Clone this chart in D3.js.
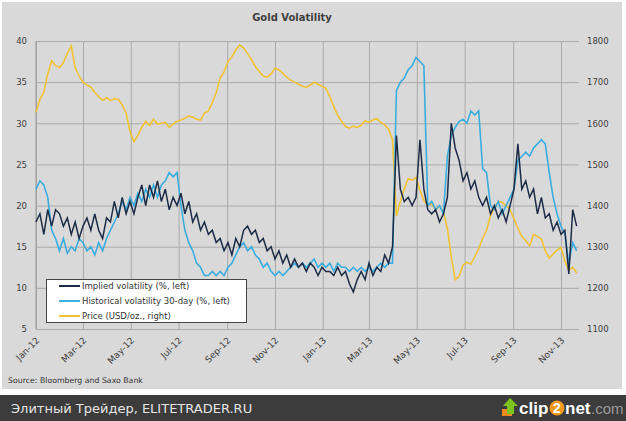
<!DOCTYPE html>
<html>
<head>
<meta charset="utf-8">
<script src="https://cdn.jsdelivr.net/npm/d3@7"></script>
<style>
body { margin: 0; background: #fff; }
svg { display: block; font-family: "DejaVu Sans", sans-serif; }
</style>
</head>
<body>
<div id="chart"></div>
<script>
const dates = [
    "2012-01-01","2012-01-06","2012-01-11","2012-01-16","2012-01-21","2012-01-26","2012-01-31",
    "2012-02-05","2012-02-10","2012-02-15","2012-02-20","2012-02-25",
    "2012-03-01","2012-03-06","2012-03-11","2012-03-16","2012-03-21","2012-03-26","2012-03-31",
    "2012-04-05","2012-04-10","2012-04-15","2012-04-20","2012-04-25","2012-04-30",
    "2012-05-05","2012-05-10","2012-05-15","2012-05-20","2012-05-25","2012-05-30",
    "2012-06-04","2012-06-09","2012-06-14","2012-06-19","2012-06-24","2012-06-29",
    "2012-07-04","2012-07-09","2012-07-14","2012-07-19","2012-07-24","2012-07-29",
    "2012-08-03","2012-08-08","2012-08-13","2012-08-18","2012-08-23","2012-08-28",
    "2012-09-02","2012-09-07","2012-09-12","2012-09-17","2012-09-22","2012-09-27",
    "2012-10-02","2012-10-07","2012-10-12","2012-10-17","2012-10-22","2012-10-27",
    "2012-11-01","2012-11-06","2012-11-11","2012-11-16","2012-11-21","2012-11-26",
    "2012-12-01","2012-12-06","2012-12-11","2012-12-16","2012-12-21","2012-12-26","2012-12-31",
    "2013-01-05","2013-01-10","2013-01-15","2013-01-20","2013-01-25","2013-01-30",
    "2013-02-04","2013-02-09","2013-02-14","2013-02-19","2013-02-24",
    "2013-03-01","2013-03-06","2013-03-11","2013-03-16","2013-03-21","2013-03-26","2013-03-31",
    "2013-04-05","2013-04-10","2013-04-15","2013-04-20","2013-04-25","2013-04-30",
    "2013-05-05","2013-05-10","2013-05-15","2013-05-20","2013-05-25","2013-05-30",
    "2013-06-04","2013-06-09","2013-06-14","2013-06-19","2013-06-24","2013-06-29",
    "2013-07-04","2013-07-09","2013-07-14","2013-07-19","2013-07-24","2013-07-29",
    "2013-08-03","2013-08-08","2013-08-13","2013-08-18","2013-08-23","2013-08-28",
    "2013-09-02","2013-09-07","2013-09-12","2013-09-17","2013-09-22","2013-09-27",
    "2013-10-02","2013-10-07","2013-10-12","2013-10-17","2013-10-22","2013-10-27",
    "2013-11-01","2013-11-06","2013-11-11","2013-11-16","2013-11-21"
];

const implied = [
    18,19,16.5,19.5,17.5,19.5,19,17.5,18.5,16.5,
    18,16,17.5,18.5,17,19,17,16,18.5,18,
    20.5,18.5,21,19,20.5,19,21,22.5,20,22.5,
    21,23,20.5,22,19.5,21,20,21.5,19,20.5,
    18,19,17,18,16.5,17,15.5,16,14.5,15.5,
    14,16,15,17,17.5,16.5,17,15.5,16,14.5,
    15,13.5,14.5,13,14,12.5,13.5,12.5,13,12,
    13,12.5,11.5,12.5,12,12,11.5,12.5,11.5,12,
    10.5,9.5,11,12,11,13,11.5,12.5,12,14,
    13,15,28.5,22,20.5,21,20,21,28,22,
    19.5,19,19.5,18,19,21,30,27,25.5,23,
    24,22,23,21,20,21,19,20,18.5,19.5,
    18,20,22,27.5,22,23,21,22,19,21,
    18.5,19,17,18,16.5,17,11.7,19.5,17.5
];

const historical = [
    22,23,22.5,21,17,16,14.5,16,14.2,15,
    14.5,16,15.5,14.5,15,14,15.5,14.5,16,17,
    18,19,20.5,19.5,21,20,21.5,20.5,22,21,
    22.5,21,22.5,23,24,23.5,24,20,17,15.5,
    14.5,13,12.5,11.5,11.5,12,11.5,12,11.5,12.5,
    13,14,15,15.5,14.5,15,14,13.5,12.5,13,
    12,11.5,12,11.5,12,12.5,13,12.5,13,12.5,
    13,13.5,12.5,13,12.5,13,12,13,12.5,12.5,
    12,12.5,12,12.5,12,12.5,12,12.5,13,12.5,
    13,13,34,35,35.5,36.5,37,38,37.5,37,
    20,20.5,19.5,20,19,26,28.5,29.5,30.2,30.5,
    30,31.5,31,31.5,24.5,24,20,19.5,20.5,19,
    20,21,22,25.5,26,26.5,26,27,27.5,28,
    27.5,24,21,19,17.5,16.5,13,15.5,14.5
];

const price = [
    1627,1658,1676,1720,1752,1740,1735,1748,1770,1788,
    1735,1715,1700,1693,1688,1675,1665,1656,1662,1655,
    1660,1658,1645,1625,1580,1555,1570,1590,1605,1595,
    1610,1598,1600,1602,1590,1598,1605,1608,1612,1618,
    1615,1610,1608,1625,1630,1650,1675,1710,1725,1750,
    1762,1778,1790,1783,1770,1755,1738,1726,1715,1712,
    1720,1734,1730,1722,1712,1705,1700,1695,1690,1687,
    1693,1700,1695,1690,1685,1665,1640,1620,1605,1592,
    1588,1593,1590,1595,1606,1602,1608,1612,1602,1596,
    1585,1560,1375,1410,1440,1465,1462,1468,1438,1412,
    1400,1405,1390,1398,1385,1345,1275,1220,1228,1255,
    1262,1258,1275,1295,1320,1340,1375,1395,1410,1408,
    1400,1390,1368,1345,1325,1315,1302,1330,1325,1318,
    1290,1272,1282,1292,1298,1265,1243,1250,1236
];

const xTicks = ["2012-01-01","2012-03-01","2012-05-01","2012-07-01","2012-09-01","2012-11-01",
                "2013-01-01","2013-03-01","2013-05-01","2013-07-01","2013-09-01","2013-11-01"];
const leftTicks = [5, 10, 15, 20, 25, 30, 35, 40];
const rightTicks = [1100, 1200, 1300, 1400, 1500, 1600, 1700, 1800];
const seriesNames = ["Implied volatility (%, left)", "Historical volatility 30-day (%, left)", "Price (USD/oz., right)"];
const seriesColors = ["#1c2b46", "#3badde", "#f1c232"];

const parse = d3.timeParse("%Y-%m-%d");
const dateValues = dates.map(parse);

const svg = d3.select("#chart").append("svg")
              .attr("width", 626)
              .attr("height", 421);

svg.append("rect")
   .attr("x", 2).attr("y", 2)
   .attr("width", 620).attr("height", 387)
   .attr("fill", "#d9d9d9");

const x = d3.scaleTime().domain([parse("2012-01-01"), parse("2013-11-24")]).range([36, 579]);
const yL = d3.scaleLinear().domain([5, 40]).range([329, 41]);
const yR = d3.scaleLinear().domain([1100, 1800]).range([329, 41]);

// grid + left labels
const gLeft = svg.append("g")
   .attr("transform", "translate(36,0)")
   .call(d3.axisLeft(yL).tickValues(leftTicks).tickSize(-543).tickPadding(9));
gLeft.select(".domain").remove();
gLeft.selectAll("line").attr("stroke", "#aaaaaa");
gLeft.selectAll("text").attr("font-size", "8.5px").attr("fill", "#404040").attr("font-family", "DejaVu Sans");

const gBottom = svg.append("g")
   .attr("transform", "translate(0,329)")
   .call(d3.axisBottom(x).tickValues(xTicks.map(parse)).tickFormat(d3.timeFormat("%b-%y")).tickSize(-288));
gBottom.select(".domain").remove();
gBottom.selectAll("line").attr("stroke", "#aaaaaa");
gBottom.selectAll("text")
   .attr("y", 0).attr("dy", 0)
   .attr("text-anchor", "end")
   .attr("transform", "translate(3.5,12) rotate(-45)")
   .attr("font-size", "9px").attr("fill", "#404040").attr("font-family", "DejaVu Sans");

svg.append("line")
   .attr("x1", 36).attr("x2", 36).attr("y1", 41).attr("y2", 329)
   .attr("stroke", "#999");

const gRight = svg.append("g")
   .attr("transform", "translate(579,0)")
   .call(d3.axisRight(yR).tickValues(rightTicks).tickFormat(d3.format("d")).tickSize(0).tickPadding(8));
gRight.select(".domain").remove();
gRight.selectAll("text").attr("font-size", "8.5px").attr("fill", "#404040").attr("font-family", "DejaVu Sans");

const lineL = d3.line().x((d, i) => x(dateValues[i])).y(d => yL(d));
const lineR = d3.line().x((d, i) => x(dateValues[i])).y(d => yR(d));

svg.append("path").datum(price)
   .attr("d", lineR).attr("fill", "none")
   .attr("stroke", seriesColors[2]).attr("stroke-width", 1.6);
svg.append("path").datum(historical)
   .attr("d", lineL).attr("fill", "none")
   .attr("stroke", seriesColors[1]).attr("stroke-width", 1.6);
svg.append("path").datum(implied)
   .attr("d", lineL).attr("fill", "none")
   .attr("stroke", seriesColors[0]).attr("stroke-width", 1.5);

svg.append("text")
   .attr("x", 292).attr("y", 21)
   .attr("text-anchor", "middle")
   .attr("font-size", "10px").attr("font-weight", "bold")
   .attr("fill", "#404040")
   .text("Gold Volatility");

// legend
const legend = svg.append("g");
legend.append("rect")
   .attr("x", 46.5).attr("y", 279.5)
   .attr("width", 200).attr("height", 43)
   .attr("fill", "#fff").attr("stroke", "#444");
seriesNames.forEach((name, i) => {
    legend.append("line")
       .attr("x1", 59).attr("x2", 80)
       .attr("y1", 286 + i * 15).attr("y2", 286 + i * 15)
       .attr("stroke", seriesColors[i]).attr("stroke-width", 2);
    legend.append("text")
       .attr("x", 82).attr("y", 289 + i * 15)
       .attr("font-size", "8.5px").attr("fill", "#333")
       .text(name);
});

svg.append("text")
   .attr("x", 8).attr("y", 383)
   .attr("font-size", "7.8px").attr("fill", "#333")
   .text("Source: Bloomberg and Saxo Bank");

// watermark bar
svg.append("rect")
   .attr("x", 0).attr("y", 395)
   .attr("width", 626).attr("height", 26)
   .attr("fill", "#3c3c3c");
svg.append("text")
   .attr("x", 11).attr("y", 413)
   .attr("font-size", "13px").attr("fill", "#e4e4e4")
   .text("Элитный Трейдер, ELITETRADER.RU");

svg.append("rect").attr("x", 502).attr("y", 409).attr("width", 10).attr("height", 7).attr("fill", "#f08a1c");
svg.append("path")
   .attr("d", "M510,398 L518,406 L514,406 L514,414 L507,414 L507,406 L503,406 Z")
   .attr("fill", "#7cc420");
svg.append("text")
   .attr("x", 519).attr("y", 414)
   .attr("font-family", "Liberation Sans").attr("font-weight", "bold")
   .attr("font-size", "17px").attr("fill", "#fff")
   .text("clip");
svg.append("circle").attr("cx", 557).attr("cy", 408).attr("r", 7.5).attr("fill", "#f39a1e");
svg.append("text")
   .attr("x", 557).attr("y", 413)
   .attr("text-anchor", "middle")
   .attr("font-family", "Liberation Sans").attr("font-weight", "bold")
   .attr("font-size", "14px").attr("fill", "#fff")
   .text("2");
svg.append("text")
   .attr("x", 565).attr("y", 414)
   .attr("font-family", "Liberation Sans").attr("font-weight", "bold")
   .attr("font-size", "17px").attr("fill", "#fff")
   .text("net");
svg.append("text")
   .attr("x", 591).attr("y", 414)
   .attr("font-family", "Liberation Sans")
   .attr("font-size", "15px").attr("fill", "#9a9a9a")
   .text(".com");
</script>
</body>
</html>
